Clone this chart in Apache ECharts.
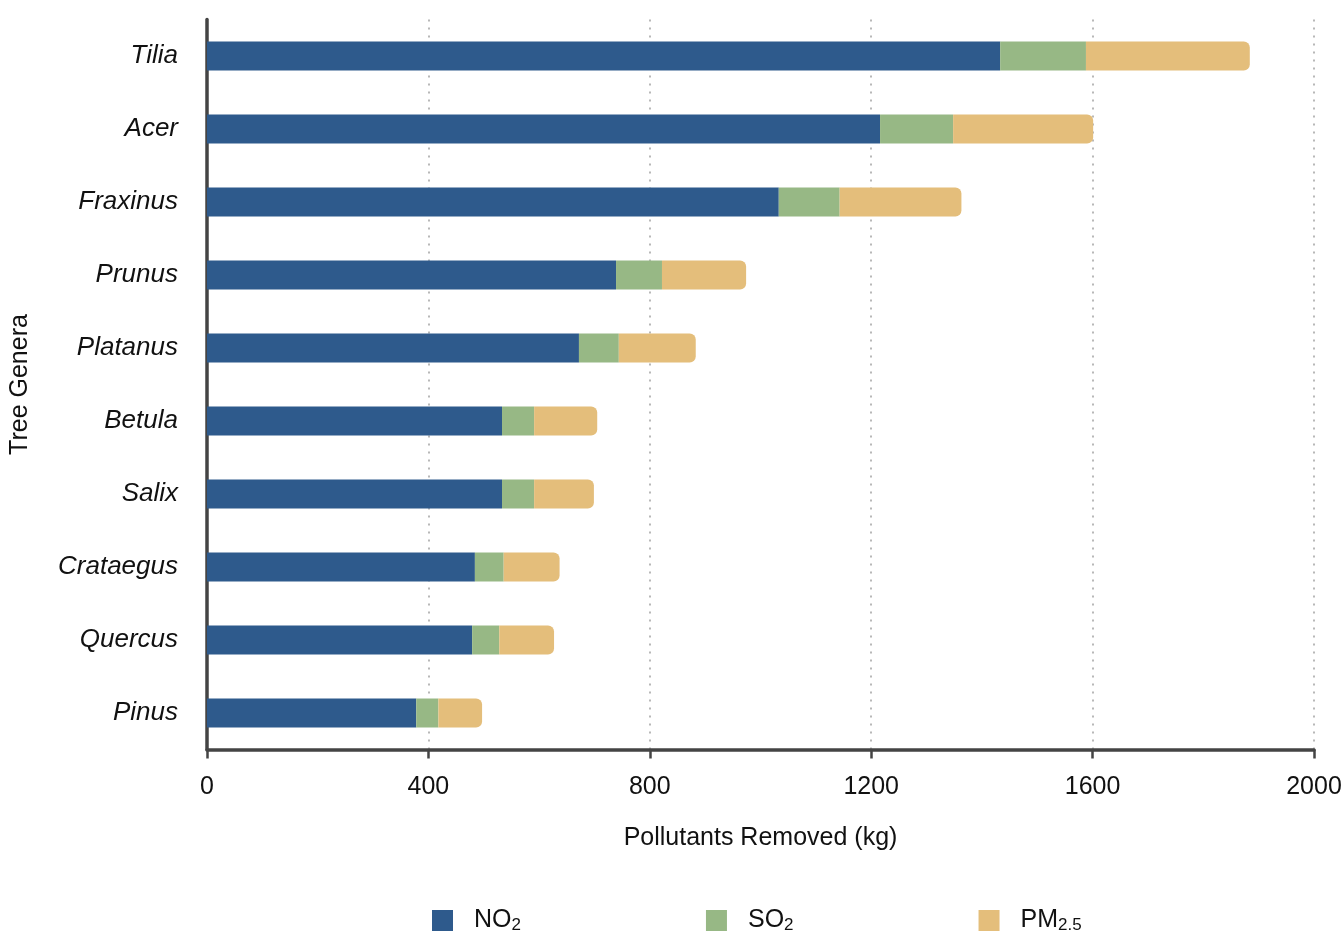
<!DOCTYPE html>
<html>
<head>
<meta charset="utf-8">
<script src="https://cdn.jsdelivr.net/npm/echarts@6/dist/echarts.min.js"></script>
<style>html,body{margin:0;padding:0;background:#fff}#c{width:1344px;height:933px}</style>
</head>
<body>
<div id="c"></div>
<script>
const categories = ['Tilia','Acer','Fraxinus','Prunus','Platanus','Betula','Salix','Crataegus','Quercus','Pinus'];
const no2 = [1433, 1216, 1033, 739, 672, 533, 533, 484, 479, 378];
const so2 = [155, 132, 110, 83, 72, 58, 58, 52, 49, 40];
const pm25 = [296, 253, 220, 152, 139, 114, 108, 101, 99, 79];
const xTicks = [0, 400, 800, 1200, 1600, 2000];
const seriesNames = ['NO2', 'SO2', 'PM2.5'];
const legendRich = {'NO2': '{a|NO}{s|2}', 'SO2': '{a|SO}{s|2}', 'PM2.5': '{a|PM}{s|2.5}'};
const colors = ['#2e5a8c', '#97b885', '#e4be7b'];

const font = '"Liberation Sans", Arial, Helvetica, sans-serif';
const chart = echarts.init(document.getElementById('c'));
const mk = (name, data, i, last) => ({
  name: name, type: 'bar', stack: 'total', data: data,
  barWidth: 29,
  itemStyle: {color: colors[i], borderRadius: last ? [0, 6, 6, 0] : 0},
  emphasis: {disabled: true}
});
chart.setOption({
  animation: false,
  backgroundColor: '#fff',
  grid: {left: 207, right: 30, top: 19.5, bottom: 183.5, containLabel: false, outerBoundsMode: 'none'},
  xAxis: {
    type: 'value', min: 0, max: 2000, interval: 400,
    name: 'Pollutants Removed (kg)', nameLocation: 'middle', nameGap: 76,
    nameTextStyle: {fontSize: 25, color: '#111', fontFamily: font},
    axisLine: {show: true, lineStyle: {color: '#444', width: 3.5}},
    axisTick: {show: true, length: 9, lineStyle: {color: '#444', width: 2.5}},
    axisLabel: {fontSize: 25, color: '#111', fontFamily: font, margin: 25,
      formatter: v => xTicks.indexOf(v) >= 0 ? String(v) : ''},
    splitLine: {show: true, lineStyle: {color: '#b8b8b8', type: [2, 6], width: 2}}
  },
  yAxis: {
    type: 'category', data: categories, inverse: true,
    name: 'Tree Genera', nameLocation: 'middle', nameGap: 174, nameRotate: 90,
    nameTextStyle: {fontSize: 25, color: '#111', fontFamily: font},
    axisLine: {show: true, lineStyle: {color: '#444', width: 3.5}},
    axisTick: {show: false},
    axisLabel: {fontSize: 26, color: '#111', fontStyle: 'italic', fontFamily: font, margin: 29},
    splitLine: {show: false}
  },
  legend: {
    left: 432, top: 908, padding: 0, itemWidth: 21, itemHeight: 21, itemGap: 185,
    icon: 'rect',
    data: seriesNames,
    formatter: n => legendRich[n],
    textStyle: {
      fontFamily: font, color: '#111', padding: [0, 0, 0, 16],
      rich: {
        a: {fontSize: 25, fontFamily: font, color: '#111'},
        s: {fontSize: 17, fontFamily: font, color: '#111', padding: [10, 0, 0, 0]}
      }
    },
    selectedMode: false
  },
  series: [mk('NO2', no2, 0, false), mk('SO2', so2, 1, false), mk('PM2.5', pm25, 2, true)]
});
</script>
</body>
</html>
